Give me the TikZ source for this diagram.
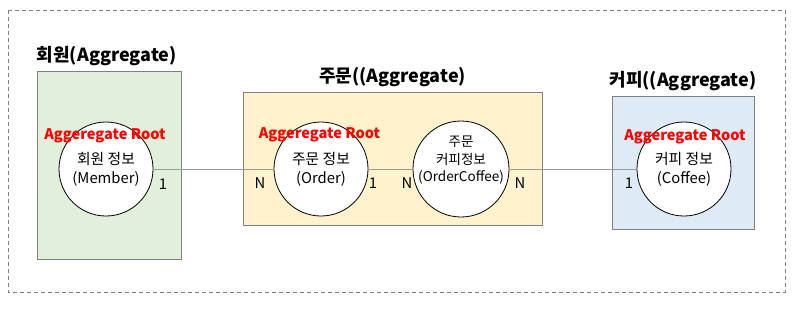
\documentclass[tikz,border=0pt]{standalone}
\usepackage{fontspec}
\setmainfont{Noto Sans CJK KR}
\usetikzlibrary{positioning}
\definecolor{memberFill}{HTML}{E2EFDA}
\definecolor{orderFill}{HTML}{FFF2CC}
\definecolor{coffeeFill}{HTML}{DEEBF7}
\definecolor{edgeGray}{HTML}{808080}
\definecolor{linkGray}{HTML}{9A9A9A}

\begin{document}
\begin{tikzpicture}[x=1pt, y=-1pt, every node/.style={font=\fontsize{14.8}{19}\selectfont, inner sep=0pt},
			agg/.style={draw=edgeGray, line width=0.8pt},
			ent/.style={draw, circle, fill=white, line width=0.8pt, minimum size=94pt, align=center},
			root/.style={text=red, font=\fontsize{14.6}{17}\selectfont\bfseries},
			ttl/.style={font=\fontsize{18}{21}\selectfont\bfseries},
			lnk/.style={draw=linkGray, line width=0.8pt}]
			\useasboundingbox (0,0) rectangle (800,314);
			\draw[draw=edgeGray, dash pattern=on 4pt off 3pt] (8,10) rectangle (785,292);
			% aggregates
			\node[agg, fill=memberFill, minimum width=144pt, minimum height=188pt] (mb) at (109,165) {};
			\node[agg, fill=orderFill, minimum width=299pt, minimum height=133pt] (ob) at (392.5,158.5) {};
			\node[agg, fill=coffeeFill, minimum width=142pt, minimum height=133pt] (cb) at (683,162.5) {};
			\node[ttl, above right=5pt and 0pt of mb.north west] (mt) {회원(Aggregate)};
			\node[ttl, above=5pt of ob.north] (ot) {주문((Aggregate)};
			\node[ttl, above=5pt of cb.north] (ct) {커피((Aggregate)};
			% entities
			\node[ent] (mem) at (106,169) {회원 정보\\(Member)};
			\node[ent] (ord) at (321,169) {주문 정보\\(Order)};
			\node[ent, minimum size=96pt] (oc) at (461,169) {};
			\node[align=center, font=\fontsize{13.5}{17.5}\selectfont] (ocText) at (461,160.5) {주문\\커피정보\\(OrderCoffee)};
			\node[ent] (cof) at (684,169) {커피 정보\\(Coffee)};
			\node[root] (mr) at (105,136) {Aggeregate Root};
			\node[root] (or) at (319.5,135) {Aggeregate Root};
			\node[root] (cr) at (685,137) {Aggeregate Root};
			% links
			\draw[lnk] (mem) -- (ord);
			\draw[lnk] (ord) -- (oc);
			\draw[lnk] (oc) -- (cof);
			\node (m1) at (163,184) {1};
			\node (oN) at (260,183) {N};
			\node (o1) at (373,183) {1};
			\node (ocN1) at (407,183) {N};
			\node (ocN2) at (520,183) {N};
			\node (c1) at (629,183) {1};
		\end{tikzpicture}
\end{document}
